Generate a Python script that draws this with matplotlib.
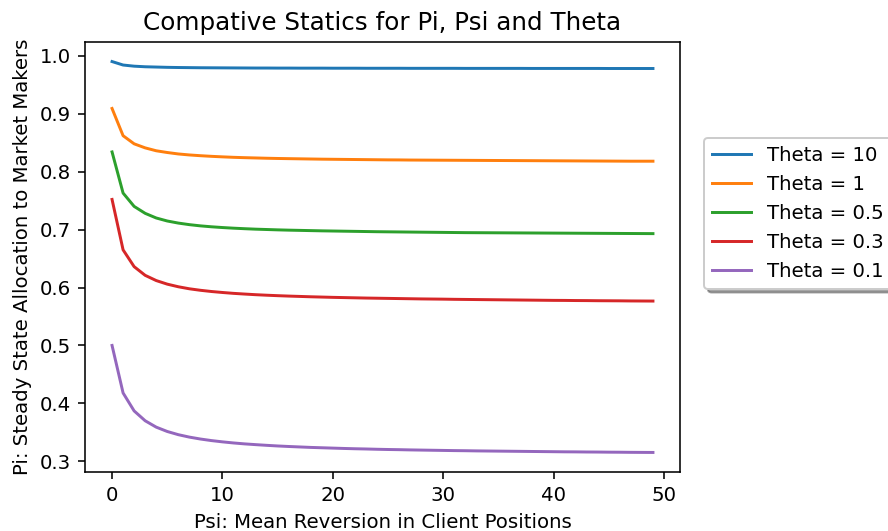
import numpy as np
import matplotlib
matplotlib.use("Agg")
import matplotlib.pyplot as plt

# Psi grid and steady-state Pi for each Theta
psi = np.arange(0, 50)

theta_labels = ["Theta = 10", "Theta = 1", "Theta = 0.5", "Theta = 0.3", "Theta = 0.1"]

pi_theta_10 = [0.990, 0.984, 0.982, 0.981, 0.9805, 0.9800, 0.9797, 0.9795, 0.9793, 0.9792,
               0.9791, 0.9790, 0.9789, 0.9788, 0.9788, 0.9787, 0.9787, 0.9786, 0.9786, 0.9786,
               0.9785, 0.9785, 0.9785, 0.9784, 0.9784, 0.9784, 0.9784, 0.9783, 0.9783, 0.9783,
               0.9783, 0.9783, 0.9782, 0.9782, 0.9782, 0.9782, 0.9782, 0.9782, 0.9781, 0.9781,
               0.9781, 0.9781, 0.9781, 0.9781, 0.9781, 0.9780, 0.9780, 0.9780, 0.9780, 0.9780]

pi_theta_1 = [0.909, 0.862, 0.848, 0.841, 0.836, 0.833, 0.8305, 0.8288, 0.8275, 0.8264,
              0.8255, 0.8247, 0.8241, 0.8236, 0.8231, 0.8227, 0.8224, 0.8221, 0.8218, 0.8215,
              0.8213, 0.8211, 0.8209, 0.8207, 0.8205, 0.8203, 0.8202, 0.820, 0.8199, 0.8198,
              0.8197, 0.8196, 0.8195, 0.8194, 0.8193, 0.8192, 0.8191, 0.819, 0.8189, 0.8188,
              0.8187, 0.8186, 0.8185, 0.8184, 0.8183, 0.8182, 0.8181, 0.818, 0.818, 0.818]

pi_theta_05 = [0.834, 0.763, 0.740, 0.728, 0.720, 0.7148, 0.7112, 0.7085, 0.7064, 0.7048,
               0.7035, 0.7024, 0.7015, 0.7007, 0.7001, 0.6995, 0.699, 0.6986, 0.6982, 0.6978,
               0.6975, 0.6972, 0.6969, 0.6966, 0.6963, 0.6961, 0.6959, 0.6957, 0.6955, 0.6953,
               0.6951, 0.6949, 0.6947, 0.6946, 0.6945, 0.6944, 0.6943, 0.6942, 0.6941, 0.694,
               0.6939, 0.6938, 0.6937, 0.6936, 0.6935, 0.6934, 0.6933, 0.6932, 0.6931, 0.693]

pi_theta_03 = [0.752, 0.665, 0.636, 0.621, 0.612, 0.6058, 0.6013, 0.5978, 0.5952, 0.5931,
               0.5914, 0.5899, 0.5887, 0.5876, 0.5867, 0.5859, 0.5852, 0.5846, 0.5840, 0.5835,
               0.5830, 0.5826, 0.5822, 0.5818, 0.5815, 0.5812, 0.5809, 0.5806, 0.5803, 0.5801,
               0.5799, 0.5796, 0.5794, 0.5792, 0.5790, 0.5788, 0.5786, 0.5784, 0.5782, 0.578,
               0.5778, 0.5777, 0.5775, 0.5774, 0.5772, 0.5771, 0.577, 0.5768, 0.5767, 0.5766]

pi_theta_01 = [0.500, 0.418, 0.387, 0.370, 0.359, 0.3515, 0.3460, 0.3418, 0.3385, 0.3358,
               0.3336, 0.3317, 0.3301, 0.3288, 0.3276, 0.3265, 0.3256, 0.3248, 0.3240, 0.3234,
               0.3228, 0.3222, 0.3217, 0.3213, 0.3208, 0.3204, 0.3201, 0.3197, 0.3194, 0.3191,
               0.3188, 0.3185, 0.3183, 0.318, 0.3178, 0.3176, 0.3174, 0.3172, 0.317, 0.3168,
               0.3166, 0.3164, 0.3163, 0.3161, 0.316, 0.3158, 0.3157, 0.3155, 0.3154, 0.3153]

series = [pi_theta_10, pi_theta_1, pi_theta_05, pi_theta_03, pi_theta_01]

dpi = 142
fig = plt.figure(figsize=(888 / dpi, 531 / dpi), dpi=dpi)
ax = fig.add_axes([85 / 888, 1 - 472 / 531, 595 / 888, 430 / 531])

for vals, lab in zip(series, theta_labels):
    ax.plot(psi, vals, label=lab)

ax.set_title("Compative Statics for Pi, Psi and Theta", fontsize=12.5)
ax.set_xlabel("Psi: Mean Reversion in Client Positions")
ax.set_ylabel("Pi: Steady State Allocation to Market Makers")
ax.legend(loc="upper left", bbox_to_anchor=(1.04, 0.776), borderaxespad=0, shadow=True)

fig.savefig("out.png", dpi=dpi)
